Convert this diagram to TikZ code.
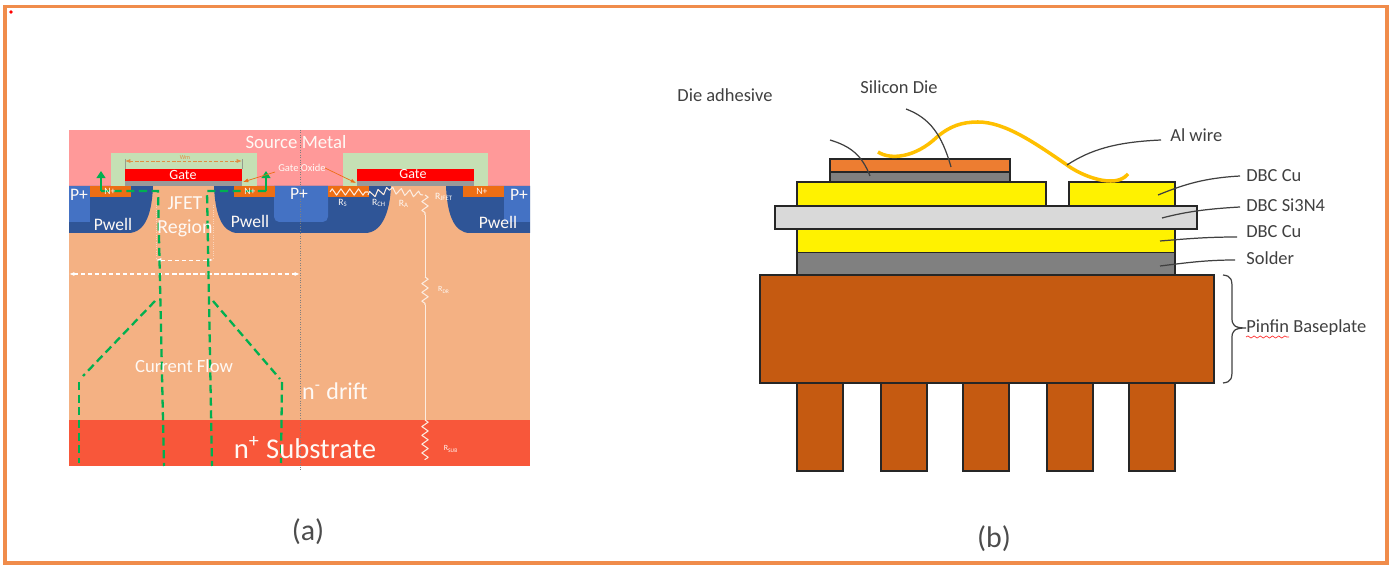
\documentclass[tikz,border=0pt]{standalone}
\usepackage{fontspec}
\setmainfont{Carlito}
\usepackage{xcolor}
\usetikzlibrary{calc,arrows.meta,positioning,decorations.pathmorphing,decorations.pathreplacing}
\definecolor{frameOrange}{RGB}{240,140,75}
\definecolor{metalPink}{RGB}{255,153,153}
\definecolor{driftTan}{RGB}{244,177,131}
\definecolor{subRed}{RGB}{248,87,58}
\definecolor{wellBlue}{RGB}{47,85,151}
\definecolor{plusBlue}{RGB}{68,114,196}
\definecolor{nplusOrange}{RGB}{237,110,20}
\definecolor{oxideGreen}{RGB}{197,224,180}
\definecolor{flowGreen}{RGB}{0,176,80}
\definecolor{baseBrown}{RGB}{197,90,17}
\definecolor{dieOrange}{RGB}{237,125,49}
\definecolor{wireGold}{RGB}{255,192,0}
\definecolor{lblGray}{RGB}{64,64,64}
\definecolor{resLine}{RGB}{252,236,224}
\tikzset{
  lbl/.style={text=white!92!driftTan,inner sep=0pt,font=\fontsize{#1}{#1}\selectfont},
  tag/.style={text=lblGray,inner sep=0pt,font=\fontsize{10.5}{11}\selectfont},
  layer/.style={draw=black!85,line width=0.9pt},
  leader/.style={draw=black!75,line width=0.7pt},
  flow/.style={flowGreen,line width=1.3pt,dash pattern=on 4.6pt off 2.6pt},
  flowtip/.style={flowGreen,line width=1.3pt,-{Triangle[length=4pt,width=5pt]}},
  dim/.style={white,line width=0.6pt,dash pattern=on 2.5pt off 1.5pt,{Latex[length=3pt]}-{Latex[length=3pt]}},
  zig/.style={draw=resLine,line width=0.6pt,line join=round,decorate,decoration={zigzag,segment length=5pt,amplitude=1.8pt}},
}
\begin{document}
\begin{tikzpicture}[x=0.02cm,y=-0.02cm]
\useasboundingbox (0,0) rectangle (1396,570);
\draw[frameOrange, line width=1.8pt] (5,6.5) rectangle (1387,563);
\fill[red] (11,12) circle (1.1pt);
% (a) cell cross section
\fill[metalPink] (69,130) rectangle (530,186);
\fill[driftTan] (69,186) rectangle (530,420);
\fill[subRed] (69,420) rectangle (530,466);
\fill[wellBlue] (69,186) -- (153,186) .. controls (152,212) and (146,233) .. (128,233) -- (69,233) -- cycle;
\fill[wellBlue] (214,186) .. controls (215,212) and (221,233) .. (238,233) -- (365,233) .. controls (382,233) and (390,212) .. (391,186) -- cycle;
\fill[wellBlue] (446,186) .. controls (447,212) and (453,233) .. (470,233) -- (530,233) -- (530,186) -- cycle;
\fill[plusBlue] (69,186) rectangle (90,222);
\fill[plusBlue] (274,186) [rounded corners=3pt] -- (274,222) -- (328,222) [sharp corners] -- (328,186) -- cycle;
\fill[plusBlue] (504,186) rectangle (530,222);
\foreach \nx in {90,234,328,463}
  \fill[nplusOrange] (\nx,186) rectangle +(41,11);
\foreach \gx/\gw in {111/146,343/145}
  \fill[oxideGreen] (\gx,153) rectangle +(\gw,33);
\foreach \rx in {125,357} {
  \fill[red] (\rx,169) rectangle +(117,12);
  \fill[gray!80] (\rx,181) rectangle +(117,5);
}
\draw[gray!70!oxideGreen, line width=0.35pt] (125,159) -- (125,169) (242,159) -- (242,169);
\draw[gray, densely dotted, line width=0.4pt] (300,130) -- (300,470);
\draw[white!45!driftTan, densely dotted, line width=0.3pt] (156,205) -- (156,258) (213,205) -- (213,258);
% resistors
\draw[zig] (330,192) -- (368,192);
\draw[zig] (368,195) -- (390,190);
\draw[zig] (390,190) -- (423,195);
\draw[zig] (425,195) -- (425,215);
\draw[resLine, line width=0.5pt] (425,215) -- (425,277) (425,305) -- (425,420);
\draw[zig] (425,277) -- (425,305);
\draw[zig] (425,420) -- (425,460);
% dimension arrows
\draw[dim] (69,274) -- (300,274);
\draw[dim, line width=0.4pt] (156,260) -- (213,260);
\draw[nplusOrange!70!oxideGreen, line width=0.4pt, dash pattern=on 2pt off 1pt, {Latex[length=3pt]}-{Latex[length=3pt]}] (125,161) -- (242,161);
% current flow
\draw[flowtip] (101,191) -- (101,171);
\draw[flow] (101,191) -- (158,191) -- (164,466);
\draw[flowtip] (266,191) -- (266,171);
\draw[flow] (266,191) -- (207,191) -- (212,466);
\draw[flow] (155,301) -- (83,376);
\draw[flow] (79,382) -- (79,463);
\draw[flow] (213,301) -- (280,379);
\draw[flow] (282,382) -- (281,463);
% labels
\node[lbl=10.7] (lblMetal) at (296,142) {Source Metal};
\node[lbl=8] (lblGateA) at (183,174.5) {Gate};
\node[lbl=8] (lblGateB) at (413,174) {Gate};
\node[lbl=6] (lblOxide) at (302,168) {Gate Oxide};
\node[lbl=3.5,text=nplusOrange!70!oxideGreen] (lblWm) at (185,157.5) {Wm};
\node[lbl=10] (lblPa) at (79,195) {P+};
\node[lbl=10] (lblPb) at (299,194) {P+};
\node[lbl=10] (lblPc) at (519,195) {P+};
\foreach \nname/\nxx in {Na/110,Nb/250,Nc/482}
  \node[lbl=5.5] (lbl\nname) at (\nxx,191.5) {N+};
\node[lbl=10] (lblWellA) at (113,224.5) {Pwell};
\node[lbl=10] (lblWellB) at (250,221.5) {Pwell};
\node[lbl=10] (lblWellC) at (498,222.5) {Pwell};
\node[lbl=11.3,align=center] (lblJfet) at (185,217) {JFET\\[2.5pt]Region};
\node[lbl=10.6] (lblFlow) at (184,366) {Current Flow};
\node[lbl=13.7] (lblDrift) at (335,391) {n\textsuperscript{-} drift};
\node[lbl=16.3] (lblSub) at (305,448) {n\textsuperscript{+} Substrate};
\node[lbl=5.5] (lblRs) at (343,203) {R\textsubscript{S}};
\node[lbl=5.5] (lblRch) at (379,203) {R\textsubscript{CH}};
\node[lbl=5.5] (lblRa) at (404,204) {R\textsubscript{A}};
\node[lbl=5.5] (lblRjfet) at (444,197) {R\textsubscript{JFET}};
\node[lbl=4.5] (lblRdr) at (444,290) {R\textsubscript{DR}};
\node[lbl=4.5] (lblRsub) at (451,449) {R\textsubscript{SUB}};
\draw[nplusOrange, line width=0.4pt, -{Latex[length=3pt]}] (275,172) -- (243,182);
\draw[nplusOrange, line width=0.4pt, -{Latex[length=3pt]}] (325,168) -- (356,183);
\node[text=black!70, font=\fontsize{17}{17}\selectfont] (capA) at (308,532) {(a)};
% (b) module stack
\foreach \px in {797,881,963,1047,1129}
  \draw[layer, fill=baseBrown] (\px,383) rectangle +(46,88);
\draw[layer, fill=baseBrown] (760,275) rectangle (1214,383);
\draw[layer, fill=gray] (797,252.5) rectangle (1175,275);
\draw[layer, fill=yellow] (797,229) rectangle (1175,252.5);
\draw[layer, fill=yellow] (797,182) rectangle (1046,206);
\draw[layer, fill=yellow] (1069,182) rectangle (1175,206);
\draw[layer, fill=black!15] (775,206) rectangle (1197,229);
\draw[layer, fill=gray] (830,172) rectangle (1010,182);
\draw[layer, fill=dieOrange] (830,159) rectangle (1010,172);
\draw[wireGold, line width=2pt] (878,152) .. controls (890,160) and (915,158) .. (937,137)
  .. controls (950,126) and (962,122) .. (978,122) .. controls (1005,122) and (1035,143) .. (1067,165)
  .. controls (1080,175) and (1115,190) .. (1128,174);
% leader lines
\node[tag] (lblAdh) at (725,95) {Die adhesive};
\node[tag] (lblDie) at (899,87) {Silicon Die};
\node[tag, anchor=west] (lblWire) at (1170,135) {Al wire};
\node[tag, anchor=west] (lblCuA) at (1246,176) {DBC Cu};
\node[tag, anchor=west] (lblSi) at (1246,205) {DBC Si3N4};
\node[tag, anchor=west] (lblCuB) at (1246,232) {DBC Cu};
\node[tag, anchor=west] (lblSol) at (1246,258) {Solder};
\node[tag, anchor=west] (lblBase) at (1246,328) {Pinfin Baseplate};
\coordinate (ptAdhS) at (830,140);
\coordinate (ptAdh) at (870,176);
\coordinate (ptDieS) at (906,109);
\coordinate (ptDie) at (951,167);
\coordinate (ptWire) at (1067,165);
\coordinate (ptCuA) at (1158,195);
\coordinate (ptSi) at (1162,218);
\coordinate (ptCuB) at (1160,241);
\coordinate (ptSol) at (1160,266);
\draw[leader] (ptAdhS) .. controls (850,146) and (862,155) .. (ptAdh);
\draw[leader] (ptDieS) .. controls (930,118) and (942,135) .. (ptDie);
\draw[leader] (lblWire.west) ++(-9,5) .. controls (1115,142) and (1090,150) .. (ptWire);
\draw[leader] (lblCuA.west) ++(-6,0) .. controls (1205,178) and (1185,184) .. (ptCuA);
\draw[leader] (lblSi.west) ++(-6,2) .. controls (1205,209) and (1185,212) .. (ptSi);
\draw[leader] (lblCuB.west) ++(-9,5) .. controls (1205,237) and (1185,239) .. (ptCuB);
\draw[leader] (lblSol.west) ++(-11,2) .. controls (1205,260) and (1185,263) .. (ptSol);
% brace and squiggle
\draw[black!75, line width=0.7pt] (1223,275) .. controls (1232,276) and (1232,280) .. (1232,290)
  -- (1232,318) .. controls (1232,325) and (1234,328) .. (lblBase.west)
  .. controls (1234,328) and (1232,331) .. (1232,338) -- (1232,368) .. controls (1232,378) and (1232,382) .. (1223,383);
\draw[red!80!white, line width=0.4pt, decorate, decoration={snake,segment length=3.5pt,amplitude=0.6pt}] (1246,337) -- (1289,337);
\node[text=black!70, font=\fontsize{17}{17}\selectfont] (capB) at (994,539) {(b)};
\end{tikzpicture}
\end{document}
